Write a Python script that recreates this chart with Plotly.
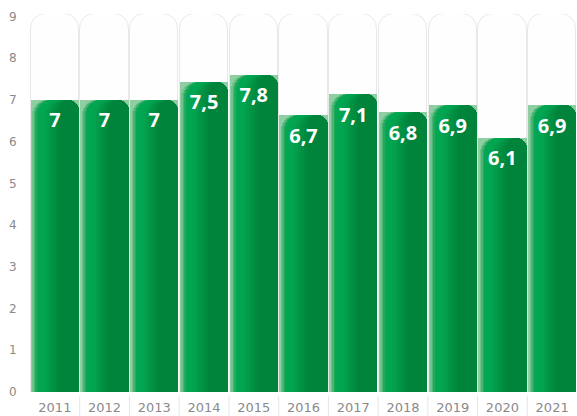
import plotly.graph_objects as go

# data
years = ['2011', '2012', '2013', '2014', '2015', '2016', '2017', '2018', '2019', '2020', '2021']
heights = [7.0, 7.0, 7.0, 7.44, 7.6, 6.64, 7.14, 6.7, 6.87, 6.09, 6.87]
labels = ['7', '7', '7', '7,5', '7,8', '6,7', '7,1', '6,8', '6,9', '6,1', '6,9']
y_max = 9.06
y_ticks = [0, 1, 2, 3, 4, 5, 6, 7, 8, 9]

n = len(years)
xs = list(range(n))

fig = go.Figure()

# light background columns
fig.add_trace(go.Bar(x=xs, y=[y_max] * n, width=0.97,
                     marker=dict(color='#fefefe', line=dict(color='#e8e8e8', width=1),
                                 cornerradius=15),
                     hoverinfo='skip', showlegend=False))

# green bars, layered left to right to fake the horizontal gradient
# (start of each layer in px from the bar's left edge, colour)
half = 0.485
slot_px = 49.7
layers = [(0, '#8fcea3'), (1.5, '#6fc28b'), (3, '#48b572'), (4.5, '#22aa5e'),
          (6, '#08a654'), (8, '#00a651'), (13, '#02a24e'), (16, '#029c4a'),
          (19, '#019546'), (22, '#018f42'), (25, '#008a3f'), (28, '#00843c')]
for start, col in layers:
    s = start / slot_px
    fig.add_trace(go.Bar(x=xs, y=heights, width=2 * half - s, offset=-half + s,
                         marker=dict(color=col, line=dict(width=0), cornerradius=15),
                         hoverinfo='skip', showlegend=False))

# value labels
fig.add_trace(go.Scatter(x=xs, y=[h - 0.54 for h in heights], text=labels, mode='text',
                         textfont=dict(family='Open Sans', size=20, color='white',
                                       weight='bold'),
                         hoverinfo='skip', showlegend=False))

# separators between year labels
for i in range(n - 1):
    fig.add_shape(type='line', xref='x', yref='paper', x0=i + 0.5, x1=i + 0.5,
                  y0=-0.01, y1=-0.07, line=dict(color='#e6e6e6', width=1))

fig.update_layout(
    width=577, height=416,
    margin=dict(t=14, b=24, l=30, r=0),
    paper_bgcolor='white', plot_bgcolor='white',
    barmode='overlay', bargap=0,
    font=dict(family='DejaVu Sans', color='#8a8a8a'),
    xaxis=dict(range=[-0.5, n - 0.5], tickvals=xs, ticktext=years, showgrid=False,
               zeroline=False, showline=False, ticks='outside', ticklen=3,
               tickcolor='rgba(0,0,0,0)', tickfont=dict(size=13), automargin=False),
    yaxis=dict(range=[0, y_max], tickvals=y_ticks, showgrid=False, zeroline=False,
               showline=False, ticks='outside', ticklen=10, tickcolor='rgba(0,0,0,0)',
               tickfont=dict(size=12), automargin=False),
)

fig.write_html("out.html", config={'displayModeBar': False},
               post_script="document.body.style.margin='0';")
